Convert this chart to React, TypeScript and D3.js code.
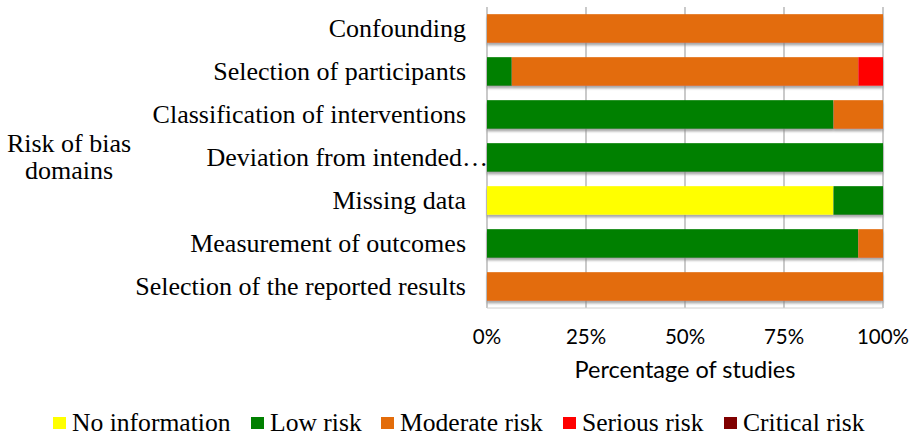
import React from "react";
import * as d3 from "d3";

const categories = [
  "Confounding",
  "Selection of participants",
  "Classification of interventions",
  "Deviation from intended…",
  "Missing data",
  "Measurement of outcomes",
  "Selection of the reported results",
];
const seriesNames = ["No information", "Low risk", "Moderate risk", "Serious risk", "Critical risk"];
const seriesColors = ["#FFFF00", "#008000", "#E36C0A", "#FF0000", "#800000"];
// percentages of studies
const noInformation = [0, 0, 0, 0, 87.5, 0, 0];
const lowRisk = [0, 6.25, 87.5, 100, 12.5, 93.75, 0];
const moderateRisk = [100, 87.5, 12.5, 0, 0, 6.25, 100];
const seriousRisk = [0, 6.25, 0, 0, 0, 0, 0];
const criticalRisk = [0, 0, 0, 0, 0, 0, 0];
const xTicks = [0, 25, 50, 75, 100];

const W = 913, H = 436;
const left = 487, right = 883, top = 7, bottom = 308;
const serif = "'Liberation Serif', 'Times New Roman', serif";
const sans = "Lato, 'Open Sans', sans-serif";

export default function App() {
  const seriesValues = [noInformation, lowRisk, moderateRisk, seriousRisk, criticalRisk];
  const rows = categories.map((c, i) => {
    const r: any = { cat: c };
    seriesNames.forEach((s, j) => (r[s] = seriesValues[j][i]));
    return r;
  });
  const stack = d3.stack<any>().keys(seriesNames)(rows);
  const x = d3.scaleLinear().domain([0, 100]).range([left, right]);
  const y = d3.scaleBand().domain(categories).range([top, bottom]).paddingInner(1 / 3).paddingOuter(1 / 6);

  const legendX = [53, 251, 381, 563, 724];

  return (
    <svg width={W} height={H} style={{ position: "absolute", left: 0, top: 0, background: "#fff" }}>
      <defs>
        <filter id="sh" x="-5%" y="-20%" width="110%" height="160%">
          <feDropShadow dx="0" dy="2.5" stdDeviation="1" floodColor="#808080" floodOpacity="0.7" />
        </filter>
      </defs>
      {xTicks.map((t) => (
        <line key={t} x1={x(t)} x2={x(t)} y1={top} y2={bottom} stroke="#A6A6A6" strokeWidth={1.2} />
      ))}
      <line x1={left} x2={right} y1={bottom} y2={bottom} stroke="#D0D0D0" strokeWidth={1} />
      <g filter="url(#sh)">
        {stack.map((s, j) =>
          s.map((d, i) =>
            d[1] - d[0] > 0 ? (
              <rect
                key={`${j}-${i}`}
                x={x(d[0])}
                y={y(categories[i])}
                width={x(d[1]) - x(d[0])}
                height={y.bandwidth()}
                fill={seriesColors[j]}
              />
            ) : null
          )
        )}
      </g>
      {categories.map((c) => (
        <text
          key={c}
          x={c.endsWith("…") ? 488 : 466}
          y={(y(c) as number) + y.bandwidth() / 2}
          dy="0.33em"
          textAnchor="end"
          fontFamily={serif}
          fontSize={26}
          fill="#000"
        >
          {c}
        </text>
      ))}
      <text x={69} y={152} textAnchor="middle" fontFamily={serif} fontSize={26}>
        Risk of bias
      </text>
      <text x={69} y={179} textAnchor="middle" fontFamily={serif} fontSize={26}>
        domains
      </text>
      {xTicks.map((t) => (
        <text key={t} x={x(t)} y={344} textAnchor="middle" fontFamily={sans} fontSize={20.5} fill="#000">
          {t}%
        </text>
      ))}
      <text x={685} y={378} textAnchor="middle" fontFamily={sans} fontSize={23.5} fill="#000">
        Percentage of studies
      </text>
      {seriesNames.map((s, j) => (
        <g key={s}>
          <rect x={legendX[j]} y={417} width={13} height={12} fill={seriesColors[j]} />
          <text x={legendX[j] + 19} y={431} fontFamily={serif} fontSize={25.6} fill="#000">
            {s}
          </text>
        </g>
      ))}
    </svg>
  );
}
